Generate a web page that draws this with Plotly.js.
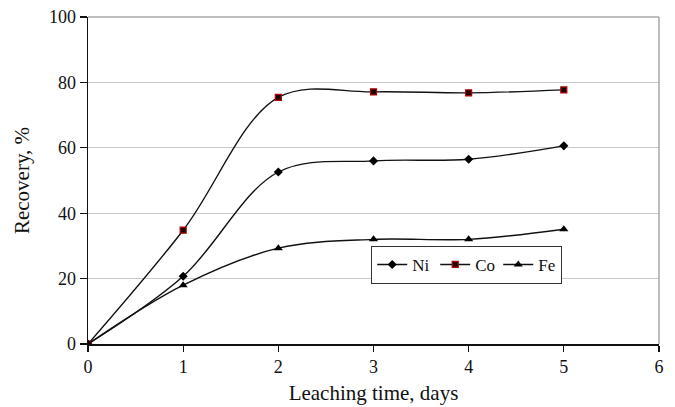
<!DOCTYPE html>
<html>
<head>
<meta charset="utf-8">
<script src="https://cdn.plot.ly/plotly-3.0.1.min.js"></script>
<style>html,body{margin:0;padding:0;background:#fff;}#chart{width:675px;height:407px;}</style>
</head>
<body>
<div id="chart"></div>
<script>
const days = [0, 1, 2, 3, 4, 5];
const ni = [0, 20.7, 52.6, 56.0, 56.5, 60.6];
const co = [0, 34.8, 75.4, 77.1, 76.8, 77.7];
const fe = [0, 18.0, 29.3, 32.0, 32.0, 35.1];
const seriesNames = ['Ni', 'Co', 'Fe'];
const xTitle = 'Leaching time, days';
const yTitle = 'Recovery, %';

const lineStyle = {color: '#111', width: 1.4, shape: 'spline', smoothing: 1};
const traces = [
  {x: days, y: ni, name: seriesNames[0], mode: 'lines+markers', line: lineStyle,
   marker: {symbol: 'diamond', size: 7, color: '#000'}},
  {x: days, y: co, name: seriesNames[1], mode: 'lines+markers', line: lineStyle,
   marker: {symbol: 'square', size: 6, color: '#1a0000', line: {color: '#b00000', width: 1.2}}},
  {x: days, y: fe, name: seriesNames[2], mode: 'lines+markers', line: lineStyle,
   marker: {symbol: 'triangle-up', size: 8, color: '#000'}}
];

const font = {family: '"Liberation Serif", "Times New Roman", serif', color: '#111'};
const layout = {
  width: 675, height: 407,
  margin: {l: 88, r: 16, t: 17, b: 63},
  paper_bgcolor: '#fff', plot_bgcolor: '#fff',
  font: Object.assign({size: 17}, font),
  showlegend: true,
  legend: {
    orientation: 'h', x: 0.496, y: 0.30, xanchor: 'left', yanchor: 'top',
    bordercolor: '#333', borderwidth: 1, bgcolor: '#fff',
    font: Object.assign({size: 17}, font), itemwidth: 30, tracegroupgap: 0,
    entrywidth: 18, entrywidthmode: 'pixels'
  },
  xaxis: {
    range: [0, 6], dtick: 1, tick0: 0, showgrid: false, zeroline: false,
    showline: true, linecolor: '#111', linewidth: 1.8,
    ticks: 'outside', ticklen: 6, tickcolor: '#111', tickwidth: 1.3,
    tickfont: Object.assign({size: 18}, font),
    title: {text: xTitle, font: Object.assign({size: 21}, font), standoff: 9}
  },
  yaxis: {
    range: [0, 100], dtick: 20, tick0: 0, showgrid: true, gridcolor: '#c8c8c8', gridwidth: 1,
    zeroline: false, showline: true, linecolor: '#111', linewidth: 1.5,
    ticks: 'outside', ticklen: 7, tickcolor: '#111', tickwidth: 1.3,
    tickfont: Object.assign({size: 18}, font),
    title: {text: yTitle, font: Object.assign({size: 21}, font), standoff: 13}
  },
  shapes: [
    {type: 'line', xref: 'paper', yref: 'paper', x0: 0, x1: 1, y0: 1, y1: 1, line: {color: '#a8a8a8', width: 1.5}},
    {type: 'line', xref: 'paper', yref: 'paper', x0: 1, x1: 1, y0: 0, y1: 1, line: {color: '#a8a8a8', width: 1.5}}
  ]
};

Plotly.newPlot('chart', traces, layout, {displayModeBar: false, staticPlot: true});
</script>
</body>
</html>
